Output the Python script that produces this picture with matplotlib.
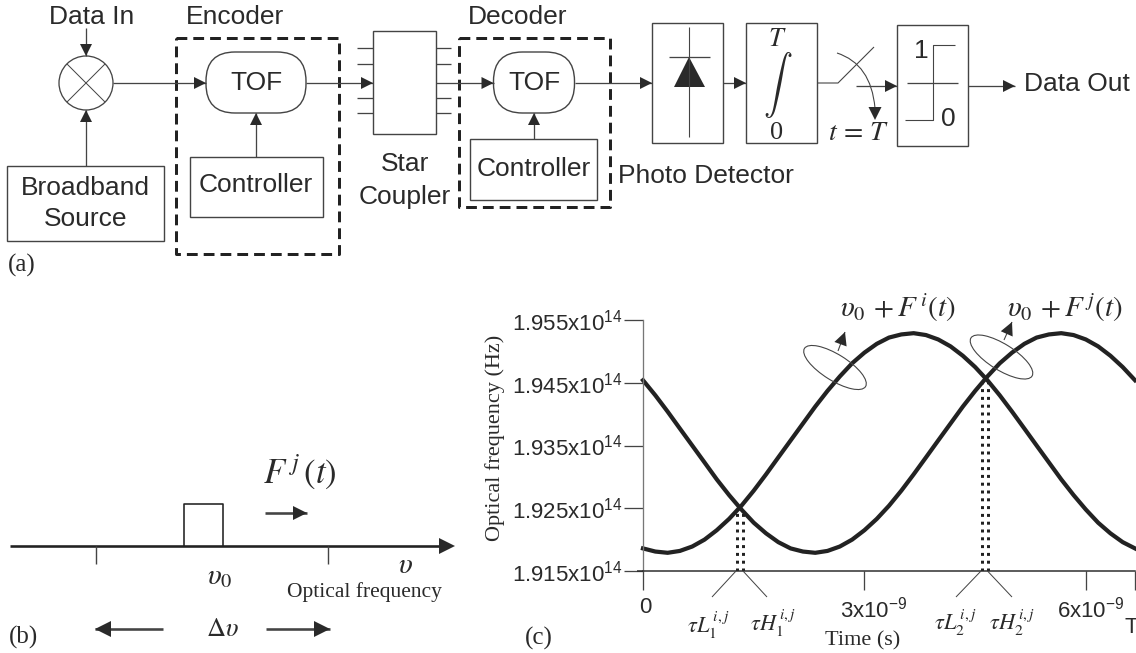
import matplotlib
matplotlib.use("Agg")
import matplotlib.pyplot as plt
from matplotlib.patches import Rectangle, Circle, Ellipse, FancyBboxPatch, Polygon, PathPatch
from matplotlib.path import Path
from matplotlib.transforms import ScaledTranslation
import math

plt.rcParams['font.family'] = ['Liberation Sans', 'DejaVu Sans']
plt.rcParams['mathtext.fontset'] = 'custom'
plt.rcParams['mathtext.rm'] = 'Liberation Sans'
plt.rcParams['mathtext.it'] = 'Liberation Sans:italic'
plt.rcParams['mathtext.bf'] = 'Liberation Sans:bold'

# ---- data for panel (c) ----
time_ns = [0.000, 0.167, 0.334, 0.500, 0.667, 0.834, 1.000, 1.167, 1.334, 1.501, 1.668,
           1.834, 2.001, 2.168, 2.335, 2.501, 2.668, 2.835, 3.002, 3.169, 3.335,
           3.502, 3.669, 3.836, 4.002, 4.169, 4.336, 4.503, 4.669, 4.836, 5.003,
           5.170, 5.336, 5.503, 5.670, 5.837, 6.003, 6.170, 6.337, 6.503, 6.670]
freq_i = [1.9186, 1.9181, 1.9179, 1.9182, 1.9189, 1.9200, 1.9215, 1.9233, 1.9254, 1.9278, 1.9304,
          1.9331, 1.9358, 1.9385, 1.9412, 1.9437, 1.9460, 1.9481, 1.9498, 1.9512, 1.9522,
          1.9527, 1.9529, 1.9526, 1.9519, 1.9508, 1.9493, 1.9475, 1.9454, 1.9430, 1.9404,
          1.9377, 1.9350, 1.9323, 1.9296, 1.9271, 1.9248, 1.9227, 1.9210, 1.9196, 1.9186]
freq_j = [1.9454, 1.9430, 1.9404, 1.9377, 1.9350, 1.9323, 1.9296, 1.9271, 1.9248, 1.9227, 1.9210,
          1.9196, 1.9186, 1.9181, 1.9179, 1.9182, 1.9189, 1.9200, 1.9215, 1.9233, 1.9254,
          1.9278, 1.9304, 1.9331, 1.9358, 1.9385, 1.9412, 1.9437, 1.9460, 1.9481, 1.9498,
          1.9512, 1.9522, 1.9527, 1.9529, 1.9526, 1.9519, 1.9508, 1.9493, 1.9475, 1.9454]
y_ticks = [1.915, 1.925, 1.935, 1.945, 1.955]
y_tick_labels = [r'1.915x10$^{\mathrm{14}}$', r'1.925x10$^{\mathrm{14}}$', r'1.935x10$^{\mathrm{14}}$',
                 r'1.945x10$^{\mathrm{14}}$', r'1.955x10$^{\mathrm{14}}$']
x_ticks = [0, 3, 6, 6.67]
x_tick_labels = ['0', r'3x10$^{\mathrm{-9}}$', r'6x10$^{\mathrm{-9}}$', 'T']
crossing_low = [1.27, 1.36]
crossing_high = [4.59, 4.68]
crossing_low_freq = 1.9247
crossing_high_freq = 1.9458

W, H = 1136, 653
DARK = '#2a2a2a'
LINE = '#444444'
PX = 0.72  # points per pixel at dpi 100

fig = plt.figure(figsize=(W / 100, H / 100), dpi=100, facecolor='white')
d = fig.add_axes([0, 0, 1, 1], zorder=3)
d.set_xlim(0, W)
d.set_ylim(H, 0)
d.axis('off')
d.patch.set_alpha(0)


def line(xs, ys, lw=1.3, color=LINE, **kw):
    d.plot(xs, ys, color=color, lw=lw * PX, solid_capstyle='butt', **kw)


def box(x0, y0, x1, y1, lw=1.4, color=LINE):
    d.add_patch(Rectangle((x0, y0), x1 - x0, y1 - y0, fill=False, ec=color, lw=lw * PX))


def head(x0, y0, x1, y1, length=12, half=6, color=DARK):
    n = math.hypot(x1 - x0, y1 - y0)
    ux, uy = (x1 - x0) / n, (y1 - y0) / n
    bx, by = x1 - ux * length, y1 - uy * length
    d.add_patch(Polygon([(x1, y1), (bx - uy * half, by + ux * half), (bx + uy * half, by - ux * half)],
                        closed=True, fc=color, ec='none', zorder=4))


def arrow(x0, y0, x1, y1, lw=1.3, length=12, half=6, color=LINE):
    line([x0, x1], [y0, y1], lw=lw, color=color)
    head(x0, y0, x1, y1, length, half)


def sans(x, y, s, size=19, ha='center', **kw):
    d.text(x, y, s, fontsize=size, ha=ha, va='center', color=DARK, **kw)


def serif(x, y, s, size=16, ha='center', math='stix', **kw):
    d.text(x, y, s, fontsize=size, ha=ha, va='center', color=DARK,
           family=['Liberation Serif'], math_fontfamily=math, **kw)


def dashed(x0, y0, x1, y1):
    d.add_patch(Rectangle((x0, y0), x1 - x0, y1 - y0, fill=False, ec='#222222', lw=3 * PX,
                          ls=(0, (3.6, 2.0)), joinstyle='round'))


def tof(x0, y0, x1, y1):
    d.add_patch(FancyBboxPatch((x0, y0), x1 - x0, y1 - y0, boxstyle='round,pad=0,rounding_size=29',
                               fill=False, ec=LINE, lw=1.4 * PX))


# ---- panel (a) ----
sans(92, 17, 'Data In')
arrow(86, 28, 86, 56)
d.add_patch(Circle((86, 83), 27, fill=False, ec=LINE, lw=1.3 * PX))
k = 27 * 0.7071
line([86 - k, 86 + k], [83 - k, 83 + k], lw=1)
line([86 - k, 86 + k], [83 + k, 83 - k], lw=1)
arrow(86, 166, 86, 110)
box(7, 166, 164, 241)
sans(85.5, 188, 'Broadband')
sans(85.5, 219, 'Source')
sans(235, 17, 'Encoder')
dashed(176, 38, 339, 254)
arrow(113, 83, 206, 83)
tof(206, 52, 306, 113)
sans(256, 83, 'TOF')
arrow(256, 157, 256, 113)
box(189.5, 157, 323, 217)
sans(256, 185, 'Controller')
arrow(306, 83, 373, 83)
box(373, 31, 435.5, 134)
for yy in (48, 64, 98, 113):
    line([357, 373], [yy, yy])
    line([435.5, 451], [yy, yy])
sans(405, 164, 'Star')
sans(405, 197, 'Coupler')
sans(518, 17, 'Decoder')
dashed(459, 38, 610, 207)
arrow(435.5, 83, 493.5, 83)
tof(493.5, 52, 574.5, 113)
sans(534, 83, 'TOF')
arrow(534, 139, 534, 113)
box(470, 139, 597, 200)
sans(534, 169, 'Controller')
arrow(574.5, 83, 652, 83)
box(652, 22.5, 723, 143)
line([689, 689], [27, 137], lw=1.1)
line([669, 710], [57, 57], lw=1.3)
d.add_patch(Polygon([(689, 57), (674, 87), (705, 87)], closed=True, fc=DARK, ec='none'))
sans(706, 176, 'Photo Detector')
arrow(723, 83, 746, 83)
box(746, 22.5, 817, 143)
serif(777, 40, r'$T$', size=19)
serif(778, 85, r'$\int$', size=21, math='cm')
serif(777, 133, '0', size=19)
line([817, 838, 874], [83, 83, 47], lw=1.1)
d.add_patch(PathPatch(Path([(837, 53), (871, 64), (875, 108)], [Path.MOVETO, Path.CURVE3, Path.CURVE3]),
                      fill=False, ec=LINE, lw=1.1 * PX))
head(875, 100, 875, 120, length=13, half=6.5)
arrow(856, 86, 897, 86)
serif(858, 133, r'$t\,=\,T$', size=20)
box(897, 25, 968, 146)
line([907, 958], [83, 83])
line([905, 933, 933, 955], [120, 120, 45, 45], lw=1.1)
sans(921, 51, '1')
sans(948, 119, '0')
arrow(968, 86, 1015, 86)
sans(1024, 84, 'Data Out', ha='left')
serif(22, 265, '(a)', size=18)

# ---- panel (b) ----
line([10, 445], [546, 546], lw=2.6, color='#222222')
head(10, 546, 455, 546, length=16, half=8)
line([96, 96], [546, 564], lw=1.4)
line([328, 328], [546, 564], lw=1.4)
line([184, 184, 223, 223], [546, 504, 504, 546], lw=1.6, color='#222222')
arrow(265, 513, 307, 513, lw=2.6, length=14, half=7)
serif(300, 472, r'$F^{\,j}\,(t)$', size=25)
serif(220, 577, r'$\upsilon_{0}$', size=21)
serif(405, 566, r'$\upsilon$', size=21)
serif(364, 592, 'Optical frequency', size=15.5)
serif(222, 630, r'$\Delta\upsilon$', size=19)
arrow(163, 629, 95, 629, lw=2.6, length=16, half=8)
arrow(266, 629, 330, 629, lw=2.6, length=16, half=8)
serif(23, 637, '(b)', size=18)

# ---- panel (c) ----
left, right, top, bottom = 643, 1135, 320, 571
ax = fig.add_axes([left / W, 1 - bottom / H, (right - left) / W, (bottom - top) / H], zorder=2)
ax.set_xlim(0, 6.67)
ax.set_ylim(1.915, 1.955)
ax.patch.set_alpha(0)
for s in ('top', 'right'):
    ax.spines[s].set_visible(False)
ax.spines['left'].set_color('#777777')
ax.spines['left'].set_linewidth(1.3 * PX)
ax.spines['bottom'].set_color(DARK)
ax.spines['bottom'].set_linewidth(1.5 * PX)
ax.plot(time_ns, freq_i, color='#222222', lw=4.2 * PX, solid_joinstyle='round', clip_on=False)
ax.plot(time_ns, freq_j, color='#222222', lw=4.2 * PX, solid_joinstyle='round', clip_on=False)
for xs, f in ((crossing_low, crossing_low_freq), (crossing_high, crossing_high_freq)):
    for x in xs:
        ax.plot([x, x], [1.915, f], color='#222222', lw=3 * PX, ls=(0, (1, 1.6)))

ax.set_yticks(y_ticks)
ax.set_yticklabels(y_tick_labels, fontsize=16, color=DARK, math_fontfamily='custom')
ax.tick_params(axis='y', length=19 * PX, width=1.3 * PX, color=LINE, pad=1)
ax.set_xticks(x_ticks)
ax.set_xticklabels(x_tick_labels, fontsize=16, color=DARK, math_fontfamily='custom')
ax.tick_params(axis='x', length=19 * PX, width=1.3 * PX, color=LINE, pad=5)
offs = [(2, 0), (9, 0), (5, 0), (-4, -20)]
for lab, (dx, dy) in zip(ax.get_xticklabels(), offs):
    lab.set_transform(lab.get_transform() + ScaledTranslation(dx / 100, dy / 100, fig.dpi_scale_trans))
d.text(495, 438, 'Optical frequency (Hz)', fontsize=16, rotation=90, ha='center', va='center',
       family=['Liberation Serif'], color=DARK)
d.text(863, 641, 'Time (s)', fontsize=16, ha='center', va='center',
       family=['Liberation Serif'], color=DARK)
line([637, 643], [571, 571], lw=1.5, color=DARK)
serif(539, 638, '(c)', size=18)

for (x0, y0, x1, y1) in ((712, 597, 736, 571), (767, 597, 743, 571),
                         (956, 597, 981, 571), (1012, 597, 987.5, 571)):
    line([x0, x1], [y0, y1], lw=1)
serif(708, 625, r'$\tau L_{1}^{\,i,j}$', size=16)
serif(773, 623, r'$\tau H_{1}^{\,i,j}$', size=16)
serif(955, 623, r'$\tau L_{2}^{\,i,j}$', size=16)
serif(1012, 623, r'$\tau H_{2}^{\,i,j}$', size=16)

d.add_patch(Ellipse((835, 367.5), 72, 26, angle=32, fill=False, ec=LINE, lw=1.1 * PX))
d.add_patch(Ellipse((1001.5, 357), 72, 26, angle=32, fill=False, ec=LINE, lw=1.1 * PX))
arrow(838, 351, 845, 332, lw=1.1, length=13, half=6.5)
arrow(1004, 340, 1012, 322, lw=1.1, length=13, half=6.5)
serif(898, 308, r'$\upsilon_{0}\,+F^{\,i}(t)$', size=21)
serif(1065, 308, r'$\upsilon_{0}\,+F^{\,j}(t)$', size=21)

fig.savefig('out.png', dpi=100, facecolor='white')
